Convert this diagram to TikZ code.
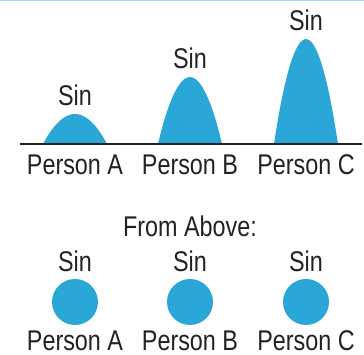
\documentclass[tikz,border=0pt]{standalone}
\usepackage{fontspec}
\setmainfont{Liberation Sans}[FakeStretch=0.82]
\usetikzlibrary{calc}
\definecolor{hump}{HTML}{2AA7D6}
\definecolor{ink}{HTML}{222222}
\definecolor{rim}{HTML}{A0DDF2}
\tikzstyle{lbl}=[text=ink, font=\fontsize{28.5}{30}\selectfont, anchor=base, inner sep=0pt, text depth=0pt]
\tikzstyle{blob}=[circle, fill=hump, minimum size=46pt, inner sep=0pt]

\begin{document}
\begin{tikzpicture}
        [x=1pt,y=1pt]
            \useasboundingbox (0,0) rectangle (364,355);
            \draw [rim, line width=1.5pt] (0,354.5) -- (364,354.5);
            % side view
            \foreach \name/\cx/\h in {A/75/30, B/190/67, C/306/105} {
                \fill [hump] (\cx-32,211) parabola bend (\cx,211+\h) (\cx+32,211);
                \node [lbl] (sin\name) at (\cx,211+\h+8) {Sin};
                \node [lbl] (side\name) at (\cx,180) {Person \name};
            }
            \coordinate (groundL) at (20,211);
            \coordinate (groundR) at (362,211);
            \draw [ink, line width=2pt] (groundL) -- (groundR);
            % seen from above
            \node [lbl] (above) at (190,118) {From Above:};
            \foreach \name/\cx in {A/75, B/190, C/306} {
                \node [blob] (dot\name) at (\cx,53) {};
                \node [lbl] (topsin\name) at (\cx,83) {Sin};
                \node [lbl] (top\name) at (\cx,4.5) {Person \name};
            }
        \end{tikzpicture}
\end{document}
